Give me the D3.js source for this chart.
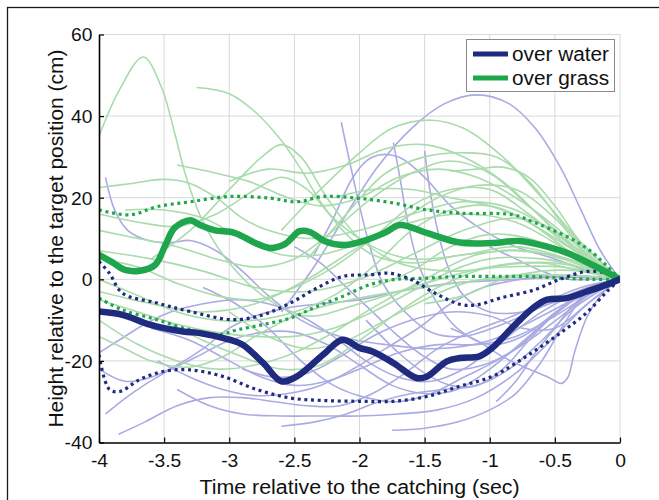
<!DOCTYPE html>
<html>
<head>
<meta charset="utf-8">
<script src="https://cdn.jsdelivr.net/npm/d3@7"></script>
<style>
  html, body { margin: 0; padding: 0; background: #fff; }
  svg { display: block; font-family: "Liberation Sans", Arial, sans-serif; }
</style>
</head>
<body>
<svg id="chart" width="659" height="500"></svg>
<script>
// ---- data: [time (s), height (cm)] ----
const timeTicks = [-4, -3.5, -3, -2.5, -2, -1.5, -1, -0.5, 0];
const heightTicks = [-40, -20, 0, 20, 40, 60];
const seriesNames = ["over water", "over grass"];

const waterMean = [[-4,-7.9],[-3.82,-8.7],[-3.61,-11.1],[-3.355,-12.8],[-3.225,-13.2],[-3.0,-14.8],[-2.9,-16.0],
  [-2.74,-20.5],[-2.6,-25.0],[-2.48,-23.8],[-2.28,-18.5],[-2.13,-14.8],[-2.0,-16.8],[-1.9,-17.7],[-1.74,-20.5],
  [-1.56,-24.2],[-1.48,-23.8],[-1.33,-20.1],[-1.23,-19.3],[-1.08,-18.9],[-0.98,-16.8],[-0.82,-11.6],[-0.67,-7.1],
  [-0.56,-5.0],[-0.41,-4.6],[-0.255,-3.0],[-0.1,-1.3],[0,0]];
const waterUpper = [[-4,4.4],[-3.92,1.5],[-3.82,-3.4],[-3.555,-5.8],[-3.3,-7.9],[-2.97,-9.9],[-2.74,-8.7],
  [-2.53,-5.8],[-2.33,-2.2],[-2.13,0.7],[-1.92,1.1],[-1.77,1.5],[-1.6,-0.1],[-1.42,-3.4],[-1.22,-6.2],[-1.09,-6.2],
  [-0.92,-4.6],[-0.66,-2.6],[-0.46,0],[-0.26,1.9],[-0.1,1.5],[0,0]];
const waterLower = [[-4,-18.5],[-3.92,-27.0],[-3.84,-27.5],[-3.69,-24.6],[-3.51,-22.6],[-3.3,-22.2],[-3.05,-23.8],
  [-2.79,-27.0],[-2.53,-29.1],[-2.28,-29.7],[-2.0,-29.9],[-1.74,-29.9],[-1.48,-28.7],[-1.23,-26.2],[-0.98,-23.8],
  [-0.72,-18.9],[-0.46,-13.2],[-0.26,-8.3],[-0.1,-3.0],[0,0]];

const grassMean = [[-4,6.0],[-3.9,4.2],[-3.8,2.3],[-3.685,2.1],[-3.57,3.5],[-3.49,8.4],[-3.42,12.6],[-3.3,14.5],
  [-3.225,13.3],[-3.11,12.0],[-2.96,11.4],[-2.8,8.9],[-2.69,7.7],[-2.57,8.7],[-2.46,11.8],[-2.38,11.6],[-2.27,9.4],
  [-2.11,8.4],[-1.96,9.5],[-1.8,11.5],[-1.69,13.3],[-1.48,11.3],[-1.23,9.0],[-0.98,8.9],[-0.77,9.4],[-0.56,8.0],
  [-0.41,6.5],[-0.21,3.5],[0,0]];
const grassUpper = [[-4,17.0],[-3.76,15.8],[-3.555,17.8],[-3.3,19.0],[-2.995,20.3],[-2.69,19.9],[-2.48,19.0],
  [-2.28,20.3],[-2.02,19.9],[-1.74,18.7],[-1.48,17.0],[-1.23,16.2],[-0.82,15.8],[-0.67,14.1],[-0.52,12.1],
  [-0.36,9.7],[-0.21,6.5],[0,0]];
const grassLower = [[-4,-4.6],[-3.82,-7.5],[-3.555,-9.9],[-3.3,-12.4],[-3.09,-13.6],[-2.94,-12.4],[-2.74,-11.1],
  [-2.53,-9.5],[-2.33,-6.7],[-2.13,-4.2],[-1.92,-1.3],[-1.74,-0.1],[-1.48,0.3],[-1.23,0.7],[-0.98,0.7],[-0.72,0.7],
  [-0.46,0.3],[-0.21,0],[0,0]];

// individual catches over water
const waterTrials = [
  [[-2.6,-8],[-2.35,3],[-2.1,16],[-1.85,28],[-1.6,37],[-1.35,43],[-1.1,45.2],[-0.85,43],[-0.65,37],[-0.45,27],[-0.3,17],[-0.15,7],[0,0]],
  [[-2.14,38.5],[-2.07,28],[-2.0,18],[-1.92,8],[-1.82,-1],[-1.65,-8],[-1.45,-13],[-1.2,-14],[-0.9,-11],[-0.55,-6],[-0.25,-2],[0,0]],
  [[-1.74,33.5],[-1.69,25],[-1.63,14],[-1.55,4],[-1.42,-5],[-1.25,-12],[-1.0,-16],[-0.75,-14],[-0.45,-7],[-0.2,-2],[0,0]],
  [[-1.5,31.5],[-1.46,22],[-1.4,12],[-1.32,3],[-1.2,-4],[-1.0,-8],[-0.75,-8],[-0.45,-5],[-0.2,-2],[0,0]],
  [[-3.95,25],[-3.88,17],[-3.78,12],[-3.62,9.5],[-3.45,9],[-3.3,9.5],[-3.1,7],[-2.9,2],[-2.7,-4],[-2.45,-10],[-2.15,-14],[-1.8,-16],[-1.4,-17],[-1.0,-15],[-0.6,-9],[-0.3,-4],[0,0]],
  [[-4,-18],[-3.85,-15],[-3.65,-11],[-3.45,-8],[-3.2,-6],[-2.95,-5],[-2.7,-6],[-2.45,-9],[-2.2,-14],[-1.95,-20],[-1.7,-24],[-1.45,-25],[-1.2,-22],[-0.9,-15],[-0.6,-8],[-0.3,-3],[0,0]],
  [[-3.95,-33],[-3.75,-28],[-3.5,-23],[-3.25,-19],[-3.0,-15],[-2.75,-13],[-2.5,-13],[-2.25,-16],[-2.0,-21],[-1.75,-26],[-1.5,-28],[-1.25,-27],[-1.0,-22],[-0.7,-14],[-0.4,-6],[0,0]],
  [[-3.4,-27],[-3.15,-31],[-2.9,-33],[-2.6,-33.5],[-2.3,-33.5],[-2.0,-33.5],[-1.7,-33],[-1.4,-32],[-1.1,-29],[-0.8,-23],[-0.5,-14],[-0.25,-6],[0,0]],
  [[-1.75,-37],[-1.5,-36.5],[-1.25,-35],[-1.0,-32],[-0.8,-28],[-0.6,-20],[-0.45,-12],[-0.3,-5],[-0.15,-1.5],[0,0]],
  [[-3.6,-12],[-3.3,-15],[-3.0,-20],[-2.75,-24],[-2.5,-26],[-2.25,-25],[-2.0,-22],[-1.7,-18],[-1.4,-16],[-1.1,-16],[-0.8,-14],[-0.5,-9],[-0.25,-4],[0,0]],
  [[-3.2,-2],[-2.95,-6],[-2.7,-12],[-2.45,-20],[-2.2,-26],[-1.95,-29],[-1.7,-30],[-1.45,-28],[-1.2,-24],[-0.95,-20],[-0.7,-15],[-0.45,-9],[-0.2,-3],[0,0]],
  [[-2.9,-22],[-2.65,-24],[-2.4,-23],[-2.15,-19],[-1.9,-14],[-1.6,-10],[-1.3,-8],[-1.0,-9],[-0.75,-12],[-0.5,-12],[-0.25,-6],[0,0]],
  [[-1.3,-12],[-1.1,-15],[-0.9,-19],[-0.7,-22],[-0.55,-24],[-0.45,-25.5],[-0.4,-24],[-0.35,-18],[-0.25,-9],[-0.12,-3],[0,0]],
  [[-2.5,8],[-2.3,4],[-2.1,-2],[-1.9,-8],[-1.7,-14],[-1.5,-19],[-1.3,-22],[-1.05,-21],[-0.8,-17],[-0.55,-10],[-0.3,-4],[0,0]],
  [[-2.35,6],[-2.2,15],[-2.05,25],[-1.9,30],[-1.7,30],[-1.5,25],[-1.3,18],[-1.05,12],[-0.8,8],[-0.5,5],[-0.25,2],[0,0]],
  [[-3.55,-20],[-3.3,-24],[-3.05,-27],[-2.8,-28.5],[-2.55,-28],[-2.3,-26],[-2.05,-22],[-1.8,-17],[-1.55,-12],[-1.3,-6],[-1.05,-2],[-0.75,0],[-0.4,0.5],[0,0]],
  [[-4,-22],[-3.8,-25],[-3.6,-24],[-3.4,-21],[-3.2,-17],[-3.0,-12],[-2.8,-9],[-2.55,-7],[-2.3,-6],[-2.0,-5],[-1.7,-3],[-1.3,-1],[-0.8,0],[-0.4,1],[0,0]],
  [[-2.6,-36],[-2.35,-35],[-2.1,-33],[-1.85,-30],[-1.6,-28],[-1.35,-27],[-1.1,-26],[-0.85,-22],[-0.6,-15],[-0.35,-7],[0,0]],
  [[-1.95,-10],[-1.7,-18],[-1.5,-23],[-1.3,-26],[-1.1,-26],[-0.9,-22],[-0.7,-15],[-0.45,-7],[-0.2,-2],[0,0]],
  [[-1.0,8],[-0.8,5],[-0.6,2],[-0.4,0],[-0.2,0],[0,0]],
  [[-0.95,-30],[-0.8,-25],[-0.65,-18],[-0.5,-12],[-0.35,-6],[-0.18,-2],[0,0]],
  [[-3.85,-38],[-3.65,-35],[-3.4,-31],[-3.15,-29],[-2.9,-29],[-2.65,-30],[-2.4,-31],[-2.15,-31],[-1.9,-28],[-1.65,-23],[-1.4,-17],[-1.15,-13],[-0.9,-10],[-0.6,-6],[-0.3,-2],[0,0]]
];

// individual catches over grass
const grassTrials = [
  [[-4,35],[-3.85,46],[-3.66,54.5],[-3.52,47],[-3.42,36],[-3.33,25],[-3.2,14],[-3.0,4],[-2.7,-5],[-2.4,-9],[-2.0,-6],[-1.5,-1],[-1.0,3],[-0.5,4],[0,0]],
  [[-3.25,47],[-3.0,45.5],[-2.8,41],[-2.6,34],[-2.45,27],[-2.3,19],[-2.1,11],[-1.9,6],[-1.6,4],[-1.2,6],[-0.8,7],[-0.4,5],[0,0]],
  [[-4,22.5],[-3.75,23.5],[-3.5,24.5],[-3.3,23.5],[-3.1,20],[-2.9,15],[-2.7,12],[-2.4,10],[-2.0,12],[-1.6,16],[-1.2,19],[-0.8,17],[-0.4,9],[0,0]],
  [[-4,16],[-3.7,14],[-3.4,13],[-3.1,16],[-2.8,22],[-2.6,25],[-2.4,22],[-2.2,15],[-1.9,8],[-1.6,5],[-1.2,6],[-0.8,8],[-0.4,5],[0,0]],
  [[-4,12],[-3.7,10],[-3.4,8],[-3.1,5],[-2.8,3],[-2.5,5],[-2.2,12],[-1.9,20],[-1.6,26],[-1.3,29],[-1.0,26],[-0.7,18],[-0.35,8],[0,0]],
  [[-4,5],[-3.7,3],[-3.4,-1],[-3.1,-4],[-2.8,-5],[-2.5,-2],[-2.2,3],[-1.9,10],[-1.6,18],[-1.3,22],[-1.0,22],[-0.7,16],[-0.35,7],[0,0]],
  [[-4,0],[-3.7,-4],[-3.4,-8],[-3.1,-10],[-2.8,-10],[-2.5,-8],[-2.2,-4],[-1.9,3],[-1.6,12],[-1.3,17],[-1.0,18],[-0.7,14],[-0.35,6],[0,0]],
  [[-4,-5],[-3.7,-8],[-3.4,-11],[-3.1,-13],[-2.8,-14],[-2.5,-14],[-2.2,-12],[-1.9,-8],[-1.6,-3],[-1.3,2],[-1.0,5],[-0.6,5],[-0.3,3],[0,0]],
  [[-4,-14],[-3.8,-17],[-3.6,-20],[-3.3,-21.5],[-3.05,-19],[-2.8,-14],[-2.5,-9],[-2.2,-6],[-1.9,-4],[-1.5,-2],[-1.0,0],[-0.5,1],[0,0]],
  [[-4,-10],[-3.7,-16],[-3.4,-20],[-3.1,-22],[-2.8,-21],[-2.5,-18],[-2.2,-13],[-1.9,-7],[-1.5,0],[-1.1,6],[-0.7,7],[-0.35,4],[0,0]],
  [[-3.6,5],[-3.3,12],[-3.0,22],[-2.75,30],[-2.6,33],[-2.45,30],[-2.25,20],[-2.0,10],[-1.7,4],[-1.3,2],[-0.9,3],[-0.45,3],[0,0]],
  [[-3.0,24],[-2.7,27],[-2.4,26],[-2.1,28],[-1.8,32],[-1.5,33],[-1.2,30],[-0.9,24],[-0.6,15],[-0.3,6],[0,0]],
  [[-2.6,12],[-2.3,22],[-2.0,31],[-1.75,37],[-1.45,39],[-1.2,37],[-0.9,30],[-0.6,20],[-0.3,9],[0,0]],
  [[-2.4,5],[-2.1,16],[-1.8,26],[-1.5,30],[-1.2,31],[-0.95,30],[-0.7,24],[-0.45,14],[-0.2,5],[0,0]],
  [[-1.3,26.5],[-1.1,27],[-0.9,27.5],[-0.7,25],[-0.5,18],[-0.3,9],[0,0]],
  [[-4,7],[-3.6,5],[-3.2,2],[-2.8,-2],[-2.4,-3],[-2.0,0],[-1.6,6],[-1.2,12],[-0.8,15],[-0.5,12],[-0.25,5],[0,0]],
  [[-4,-3],[-3.6,-6],[-3.2,-8],[-2.8,-6],[-2.4,0],[-2.0,8],[-1.6,14],[-1.2,16],[-0.8,14],[-0.45,8],[0,0]],
  [[-3.8,17],[-3.5,17],[-3.2,15],[-2.9,10],[-2.6,6],[-2.3,6],[-2.0,9],[-1.7,14],[-1.4,20],[-1.1,23],[-0.8,22],[-0.5,15],[-0.25,6],[0,0]],
  [[-3.5,-10],[-3.2,-15],[-2.9,-19],[-2.6,-22],[-2.3,-21],[-2.0,-15],[-1.7,-8],[-1.4,-2],[-1.0,3],[-0.6,4],[-0.3,2],[0,0]],
  [[-3.0,-8],[-2.7,-14],[-2.4,-17],[-2.1,-15],[-1.8,-10],[-1.5,-5],[-1.2,-1],[-0.8,1],[-0.4,1],[0,0]],
  [[-2.2,20],[-1.9,22],[-1.6,22],[-1.3,20],[-1.0,18],[-0.7,14],[-0.4,8],[0,0]],
  [[-1.9,-2],[-1.6,2],[-1.3,8],[-1.0,11],[-0.7,10],[-0.4,6],[0,0]],
  [[-3.4,28],[-3.1,26],[-2.85,24],[-2.55,20],[-2.3,18],[-2.0,20],[-1.7,25],[-1.4,27],[-1.1,25],[-0.8,20],[-0.5,13],[-0.25,6],[0,0]],
  [[-1.5,-6],[-1.2,-4],[-0.9,0],[-0.6,2],[-0.3,2],[0,0]]
];

// ---- colours ----
const waterDark = "#1f2b7f", grassDark = "#1fa64c";
const waterLight = "#a9abe2", grassLight = "#a9dbac";

// ---- layout ----
const svg = d3.select("#chart");
const x = d3.scaleLinear().domain([-4, 0]).range([99, 620]);
const y = d3.scaleLinear().domain([-40, 60]).range([442.5, 34.5]);

// outer figure frame
svg.append("rect").attr("x", 7.5).attr("y", 7.5).attr("width", 700).attr("height", 600)
  .attr("fill", "none").attr("stroke", "#1a1a1a").attr("stroke-width", 1.3);

svg.append("defs").append("clipPath").attr("id", "plotClip")
  .append("rect").attr("x", x(-4)).attr("y", y(60)).attr("width", x(0) - x(-4)).attr("height", y(-40) - y(60));

// grid
const grid = svg.append("g").attr("stroke", "#d8d8d8").attr("stroke-width", 1);
grid.selectAll("line.v").data(timeTicks.slice(1)).join("line")
  .attr("x1", d => x(d)).attr("x2", d => x(d)).attr("y1", y(-40)).attr("y2", y(60));
grid.selectAll("line.h").data(heightTicks.slice(1)).join("line")
  .attr("y1", d => y(d)).attr("y2", d => y(d)).attr("x1", x(-4)).attr("x2", x(0));

const line = d3.line().x(d => x(d[0])).y(d => y(d[1])).curve(d3.curveCatmullRom.alpha(0.5));
const plot = svg.append("g").attr("clip-path", "url(#plotClip)");

// individual trajectories
plot.append("g").selectAll("path").data(waterTrials).join("path")
  .attr("d", line).attr("fill", "none").attr("stroke", waterLight).attr("stroke-width", 1.6);
plot.append("g").selectAll("path").data(grassTrials).join("path")
  .attr("d", line).attr("fill", "none").attr("stroke", grassLight).attr("stroke-width", 1.6);

// mean ± SD (dotted)
const dotted = [[grassUpper, grassDark], [grassLower, grassDark], [waterUpper, waterDark], [waterLower, waterDark]];
dotted.forEach(([data, col]) => {
  plot.append("path").attr("d", line(data)).attr("fill", "none").attr("stroke", col)
    .attr("stroke-width", 3.2).attr("stroke-dasharray", "3 3.7");
});

// means (thick)
plot.append("path").attr("d", line(grassMean)).attr("fill", "none").attr("stroke", grassDark)
  .attr("stroke-width", 6.5).attr("stroke-linejoin", "round").attr("stroke-linecap", "round");
plot.append("path").attr("d", line(waterMean)).attr("fill", "none").attr("stroke", waterDark)
  .attr("stroke-width", 6.5).attr("stroke-linejoin", "round").attr("stroke-linecap", "round");

// axes
const xAxis = svg.append("g").attr("transform", `translate(0,${y(-40)})`)
  .call(d3.axisBottom(x).tickValues(timeTicks).tickSize(-5).tickSizeOuter(0).tickFormat(d => String(d)));
const yAxis = svg.append("g").attr("transform", `translate(${x(-4)},0)`)
  .call(d3.axisLeft(y).tickValues(heightTicks).tickSize(-5).tickSizeOuter(0).tickFormat(d => String(d)));
[xAxis, yAxis].forEach(g => {
  g.select(".domain").attr("stroke", "#000").attr("stroke-width", 1.6);
  g.selectAll(".tick line").attr("stroke", "#000").attr("stroke-width", 1.2);
  g.selectAll("text").attr("fill", "#111").attr("font-size", 17.5)
    .attr("font-family", "'Liberation Sans', Arial, sans-serif");
});
xAxis.selectAll("text").attr("y", 25).attr("dy", 0).attr("transform", "scale(1.1,1)");
yAxis.selectAll("text").attr("x", -6).attr("dy", "0.36em").attr("transform", "scale(1.1,1)");

// axis titles
svg.append("text").attr("transform", `translate(${(x(-4) + x(0)) / 2},494) scale(1.07,1)`)
  .attr("text-anchor", "middle").attr("font-size", 20).attr("fill", "#111")
  .text("Time relative to the catching (sec)");
svg.append("text").attr("transform", `translate(63,${(y(60) + y(-40)) / 2}) rotate(-90)`)
  .attr("text-anchor", "middle").attr("font-size", 21).attr("fill", "#111")
  .text("Height relative to the target position (cm)");

// legend
const legend = svg.append("g");
legend.append("rect").attr("x", 466.5).attr("y", 39.5).attr("width", 148).attr("height", 52)
  .attr("fill", "#fff").attr("stroke", "#8a8a8a").attr("stroke-width", 1);
[[seriesNames[0], waterDark, 54], [seriesNames[1], grassDark, 78]].forEach(([name, col, cy]) => {
  legend.append("line").attr("x1", 473).attr("x2", 508).attr("y1", cy).attr("y2", cy)
    .attr("stroke", col).attr("stroke-width", 5);
  legend.append("text").attr("transform", `translate(512,${cy + 7}) scale(1.04,1)`)
    .attr("font-size", 20).attr("fill", "#111").text(name);
});
</script>
</body>
</html>
